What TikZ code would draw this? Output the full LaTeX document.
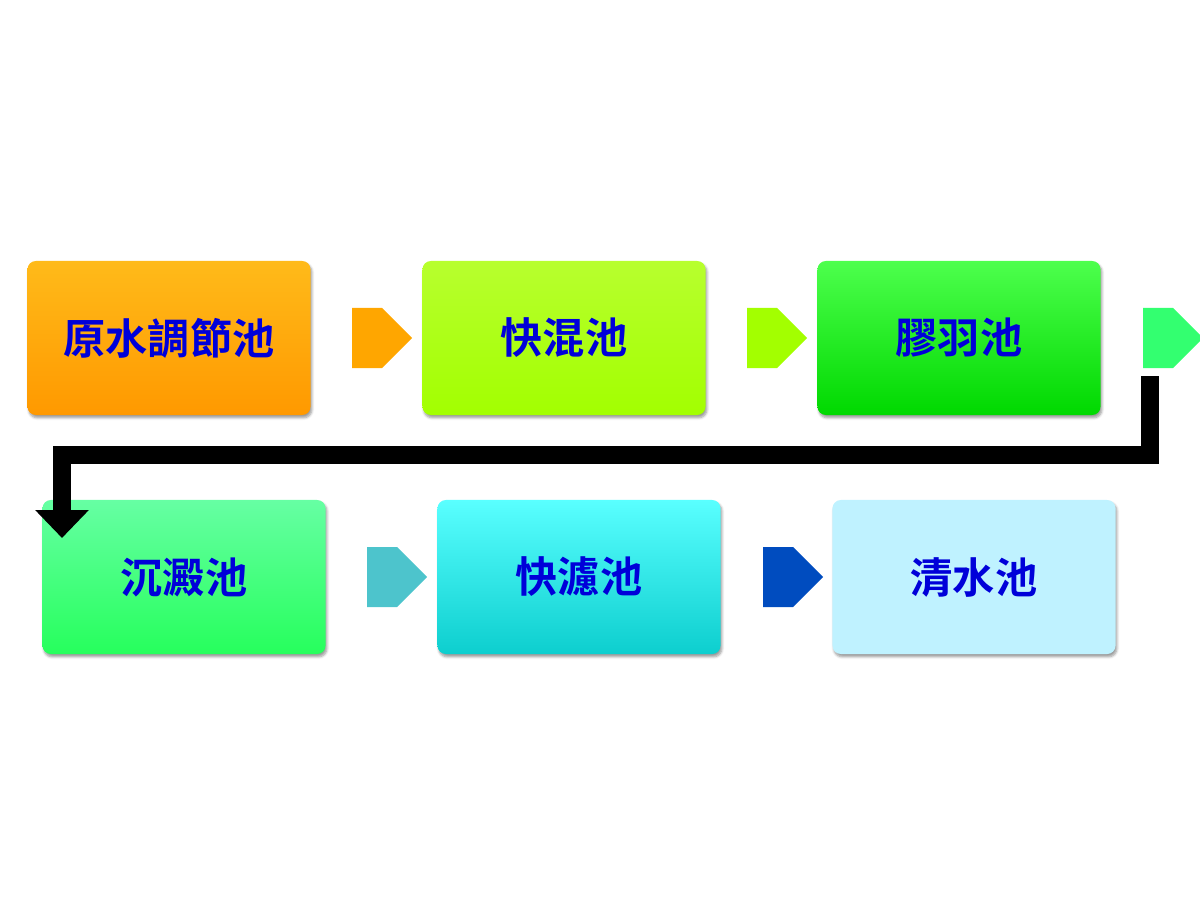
\documentclass[tikz,border=0pt]{standalone}
\usepackage{fontspec}
\newfontfamily\cjk{Noto Sans CJK TC Bold}
\usetikzlibrary{shapes.arrows,shadows.blur,arrows.meta}
\tikzset{
 pool/.style={rounded corners=6pt,minimum width=7.075cm,minimum height=3.85cm,inner sep=0pt,
  blur shadow={shadow xshift=1pt,shadow yshift=-2pt,shadow blur steps=5},
  font=\cjk\fontsize{30}{34}\selectfont,text=blue!85!black},
 flow/.style={single arrow,minimum width=1.5cm,single arrow head extend=0pt,minimum height=1.5cm,inner sep=0pt,
  single arrow tip angle=90,draw=none}
}
\begin{document}
\begin{tikzpicture}[x=0.025cm,y=-0.025cm]
\useasboundingbox (0,0) rectangle (1200,900);
\node[pool,top color=orange!60!yellow!90,bottom color=orange!80!yellow] (a) at (169,338) {原水調節池};
\node[pool,top color=lime!80!white!90!green,bottom color=lime!85!green] (b) at (564,338) {快混池};
\node[pool,top color=green!70!white,bottom color=green!85!black] (c) at (959,338) {膠羽池};
\node[pool,top color=green!60!cyan!60!white,bottom color=green!75!cyan!85] (d) at (184,577) {沉澱池};
\node[pool,top color=cyan!65!white,bottom color=cyan!80!black!95] (e) at (579,577) {快濾池};
\node[pool,fill=blue!20!cyan!25!white] (f) at (974,577) {清水池};
\node[flow,fill=orange!70!yellow] (ab) at (367,338) {};
\node[flow,fill=lime!85!green] (bc) at (762,338) {};
\node[flow,fill=green!70!cyan!80] (cd) at (1158,338) {};
\node[flow,fill=cyan!70!green!70] (de) at (382,577) {};
\node[flow,fill=blue!60!cyan!75!black] (ef) at (778,577) {};
\coordinate (s) at (1150,376);
\coordinate (t) at (62,538);
\draw[line width=0.45cm,-{Triangle[length=0.7cm,width=1.3cm]}] (s) |- (62,455) -- (t);
\end{tikzpicture}
\end{document}
